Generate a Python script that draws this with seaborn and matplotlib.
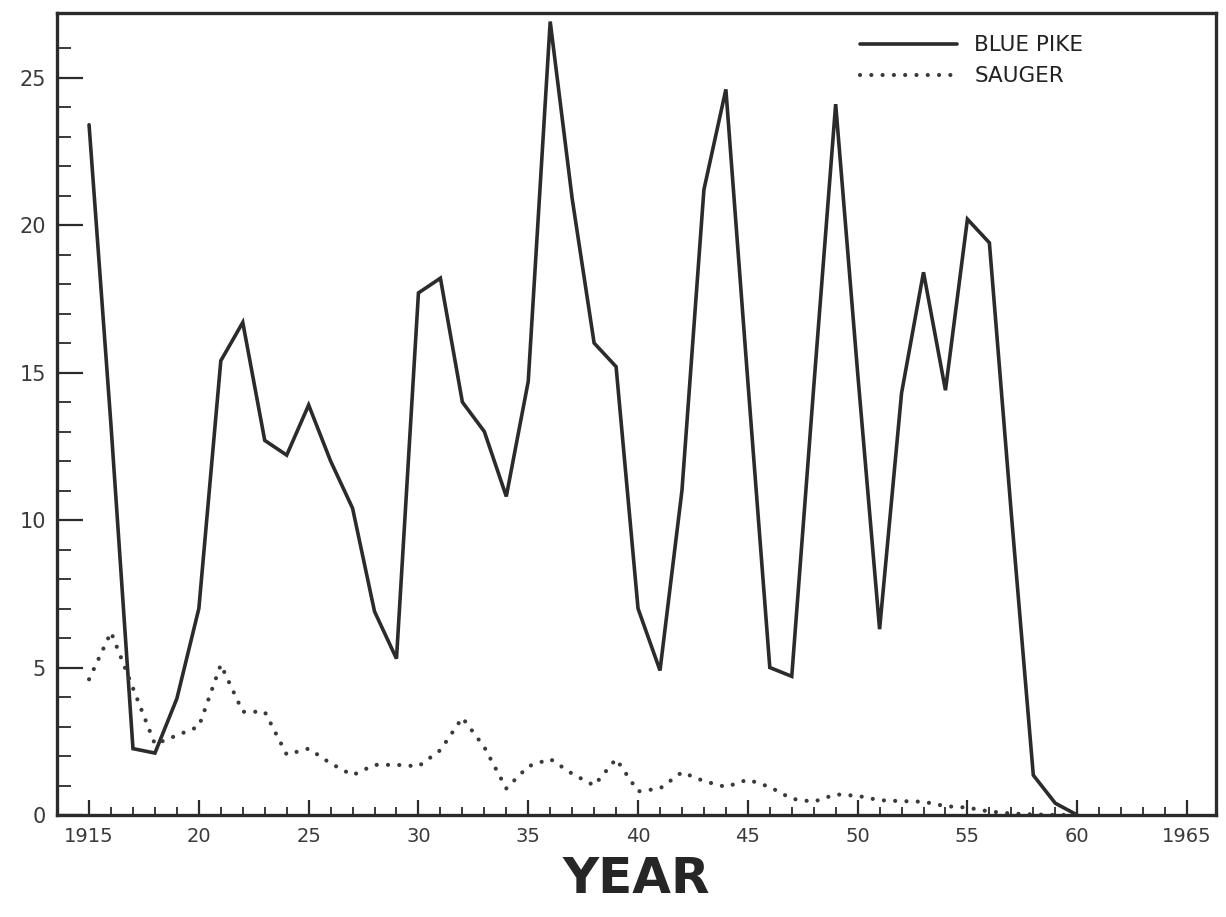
import matplotlib
matplotlib.use("Agg")
import matplotlib.pyplot as plt
from matplotlib.ticker import FixedLocator
import seaborn as sns
import pandas as pd

# ---------------- data (millions of pounds) ----------------
years = list(range(1915, 1961))

blue_pike = [23.4, 13.2, 2.25, 2.1, 3.95, 7.0, 15.4, 16.7, 12.7, 12.2,
             13.9, 12.0, 10.4, 6.9, 5.3, 17.7, 18.2, 14.0, 13.0, 10.8,
             14.7, 26.9, 20.9, 16.0, 15.2, 7.0, 4.9, 11.0, 21.2, 24.6,
             14.7, 5.0, 4.7, 14.5, 24.1, 15.0, 6.3, 14.3, 18.4, 14.4,
             20.2, 19.4, 10.2, 1.35, 0.4, 0.0]

sauger = [4.6, 6.2, 4.3, 2.4, 2.7, 3.0, 5.1, 3.5, 3.5, 2.05,
          2.25, 1.75, 1.35, 1.7, 1.7, 1.65, 2.2, 3.3, 2.3, 0.9,
          1.65, 1.9, 1.4, 1.0, 1.9, 0.8, 0.9, 1.45, 1.15, 0.95,
          1.2, 0.95, 0.55, 0.45, 0.7, 0.65, 0.5, 0.47, 0.45, 0.3,
          0.25, 0.12, 0.05, 0.02, 0.0, 0.0]

series_names = ["BLUE PIKE", "SAUGER"]

x_tick_values = [1915, 1920, 1925, 1930, 1935, 1940, 1945, 1950, 1955, 1960, 1965]
x_tick_labels = ["1915", "20", "25", "30", "35", "40", "45", "50", "55", "60", "1965"]
y_tick_values = [0, 5, 10, 15, 20, 25]
y_tick_labels = ["0", "5", "10", "15", "20", "25"]
x_label = "YEAR"

# ---------------- build long table ----------------
df = pd.DataFrame({
    "year": years * 2,
    "value": blue_pike + sauger,
    "species": [series_names[0]] * len(years) + [series_names[1]] * len(years),
})

sns.set_theme(style="white")
plt.rcParams["font.family"] = ["DejaVu Sans"]

ink = "#2b2b2b"
fig = plt.figure(figsize=(12.26, 9.17), dpi=100)
ax = fig.add_axes([57 / 1226, 1 - 815 / 917, (1216 - 57) / 1226, (815 - 13) / 917])

sns.lineplot(
    data=df, x="year", y="value", style="species", style_order=series_names,
    dashes={series_names[0]: "", series_names[1]: (0.01, 2.7)},
    color=ink, ax=ax, legend=False, estimator=None, sort=False,
    dash_capstyle="round", solid_joinstyle="miter",
)
ax.lines[0].set_linewidth(2.6)
ax.lines[1].set_linewidth(3.0)
ax.lines[1].set_color("#3a3a3a")

ax.set_xlim(1913.54, 1966.32)
ax.set_ylim(0, 27.19)

# ticks
ax.xaxis.set_major_locator(FixedLocator(x_tick_values))
ax.set_xticklabels(x_tick_labels)
ax.xaxis.set_minor_locator(FixedLocator(list(range(1915, 1966))))
ax.yaxis.set_major_locator(FixedLocator(y_tick_values))
ax.set_yticklabels(y_tick_labels)
ax.yaxis.set_minor_locator(FixedLocator(list(range(0, 27))))

ax.tick_params(which="both", bottom=True, left=True, top=False, right=False)
ax.tick_params(axis="x", which="major", direction="in", length=11, width=1.6,
               color=ink, labelsize=14, labelcolor="#3a3a3a", pad=9)
ax.tick_params(axis="x", which="minor", direction="in", length=6, width=1.3, color=ink)
ax.tick_params(axis="y", which="major", direction="in", length=19, width=1.6,
               color=ink, labelsize=15, labelcolor="#3a3a3a", pad=8)
ax.tick_params(axis="y", which="minor", direction="in", length=10, width=1.3, color=ink)

for side in ["left", "right", "top", "bottom"]:
    ax.spines[side].set_visible(True)
    ax.spines[side].set_color(ink)
    ax.spines[side].set_linewidth(2.4)

ax.set_ylabel("")
ax.set_xlabel(x_label, fontsize=36, fontweight="bold", color="#262626", labelpad=6)
ax.grid(False)

leg = ax.legend(
    handles=[ax.lines[0], ax.lines[1]], labels=series_names,
    loc="upper left", bbox_to_anchor=(0.693, 0.972), frameon=False,
    fontsize=15.5, handlelength=4.5, handletextpad=0.8, labelspacing=0.5,
    borderpad=0, borderaxespad=0,
)
for t in leg.get_texts():
    t.set_color("#222222")

fig.savefig("out.png", dpi=100, facecolor="white")
